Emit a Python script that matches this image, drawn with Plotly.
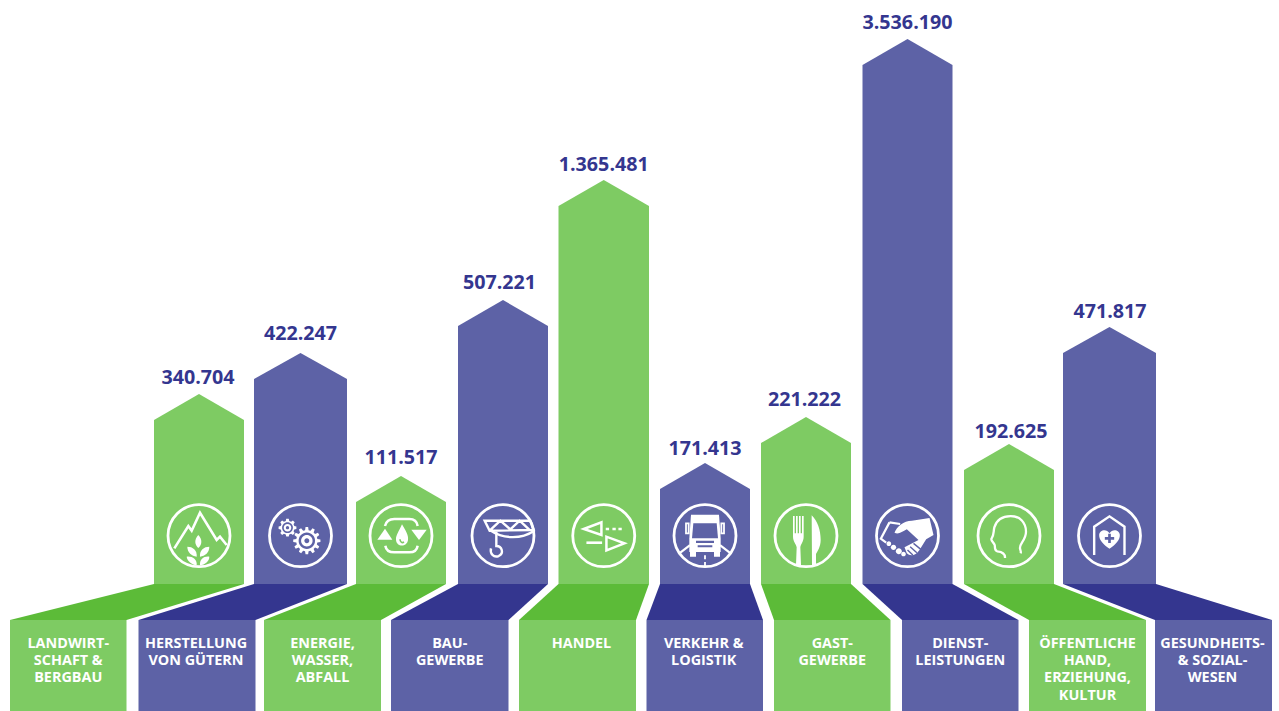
import math
import re
import plotly.graph_objects as go

# ---- data ----
categories = [
    "LANDWIRT-\nSCHAFT &\nBERGBAU", "HERSTELLUNG\nVON GÜTERN", "ENERGIE,\nWASSER,\nABFALL",
    "BAU-\nGEWERBE", "HANDEL", "VERKEHR &\nLOGISTIK", "GAST-\nGEWERBE",
    "DIENST-\nLEISTUNGEN", "ÖFFENTLICHE\nHAND,\nERZIEHUNG,\nKULTUR", "GESUNDHEITS-\n& SOZIAL-\nWESEN",
]
value_labels = ["340.704", "422.247", "111.517", "507.221", "1.365.481",
                "171.413", "221.222", "3.536.190", "192.625", "471.817"]
# heights of the arrows as drawn (the graphic does not scale linearly with the value)
drawn_heights = [190, 231, 108, 284, 404, 121, 167, 545, 140, 257]

# ---- layout geometry ----
W, H = 1279, 711
BASE_PX = 584
BAND_PX = 620
ROOF = 26
bar_left = [154, 254, 356, 458, 558.5, 660, 761, 862.5, 964, 1063]
bar_right = [244, 347, 446, 548, 649, 750, 851, 952.5, 1054, 1156]
box_left = [10, 138.5, 264, 391, 519, 646.5, 774, 902, 1029, 1155]
box_right = [126.5, 255.5, 381, 508.5, 636, 763, 890.5, 1018.5, 1146, 1272]
label_gap = [15, 18, 17, 16, 14, 13, 16, 15, 11, 14]
label_nudge = [-1, 0, 0, -3.5, 0, 0, -1.5, 0, 2, 0.5]
cat_nudge = [0, -1, 0, 0, 4, -1, 0, 0, 0, -1]
GREEN, DGREEN, PURPLE, DPURPLE = "#7ECB63", "#5CBB38", "#5D62A6", "#34368F"
FONT = "Open Sans"


def Y(px):
    return BASE_PX - px


fig = go.Figure()
for i, h in enumerate(drawn_heights):
    light = GREEN if i % 2 == 0 else PURPLE
    dark = DGREEN if i % 2 == 0 else DPURPLE
    l, r = bar_left[i], bar_right[i]
    bl, br = box_left[i], box_right[i]
    # arrow
    fig.add_trace(go.Scatter(
        x=[l, l, (l + r) / 2, r, r, l], y=[0, h - ROOF, h, h - ROOF, 0, 0],
        mode="lines", fill="toself", fillcolor=light, line=dict(width=0),
        hoverinfo="skip", showlegend=False))
    # connector
    fig.add_trace(go.Scatter(
        x=[l, r, br, bl, l], y=[0, 0, Y(BAND_PX), Y(BAND_PX), 0],
        mode="lines", fill="toself", fillcolor=dark, line=dict(width=0),
        hoverinfo="skip", showlegend=False))
    # base box
    fig.add_trace(go.Scatter(
        x=[bl, br, br, bl, bl], y=[Y(BAND_PX), Y(BAND_PX), Y(H), Y(H), Y(BAND_PX)],
        mode="lines", fill="toself", fillcolor=light, line=dict(width=0),
        hoverinfo="skip", showlegend=False))

# value labels
fig.add_trace(go.Scatter(
    x=[(a + b) / 2 + n for a, b, n in zip(bar_left, bar_right, label_nudge)],
    y=[h + g for h, g in zip(drawn_heights, label_gap)],
    text=value_labels, mode="text", textposition="middle center",
    textfont=dict(family=FONT, size=19.7, color=DPURPLE, weight=700),
    hoverinfo="skip", showlegend=False))

# category labels, one text point per line
lx, ly, lt = [], [], []
for i, cat in enumerate(categories):
    for j, line in enumerate(cat.split("\n")):
        lx.append((box_left[i] + box_right[i]) / 2 + cat_nudge[i])
        ly.append(Y(644 + j * 17.4))
        lt.append(line)
fig.add_trace(go.Scatter(
    x=lx, y=ly, text=lt, mode="text", textposition="middle center",
    textfont=dict(family=FONT, size=14.4, color="white", weight=700),
    hoverinfo="skip", showlegend=False))

# ---- pictograms (paths in 3x local units, centred on the icon origin) ----
shapes = []
ICON_Y = 535.7


def add_path(cx, origin, d, fill=None, stroke=None, w=2.0):
    ox, oy = origin
    out, is_x = [], True
    for tok in re.findall(r"[MLCQZ]|-?\d+\.?\d*", d):
        if tok.isalpha():
            out.append(tok)
            is_x = True
        else:
            v = float(tok)
            if is_x:
                out.append(f"{cx + (v - ox) / 3:.2f},")
            else:
                out.append(f"{Y(ICON_Y + (v - oy) / 3):.2f}")
            is_x = not is_x
    path = " ".join(out).replace(", ", ",")
    shapes.append(dict(type="path", xref="x", yref="y", path=path, layer="above",
                       fillcolor=fill or "rgba(0,0,0,0)",
                       line=dict(color=stroke or "rgba(0,0,0,0)", width=w if stroke else 0)))


def circ(x, y, r):
    k = 0.5523 * r
    return (f"M{x - r},{y} C{x - r},{y - k} {x - k},{y - r} {x},{y - r} "
            f"C{x + k},{y - r} {x + r},{y - k} {x + r},{y} "
            f"C{x + r},{y + k} {x + k},{y + r} {x},{y + r} "
            f"C{x - k},{y + r} {x - r},{y + k} {x - r},{y} Z")


def gear(x, y, ro, ri, n):
    pts = []
    for t in range(n):
        a = 2 * math.pi * t / n
        s = 2 * math.pi / n
        for da, rad in ((-0.32, ri), (-0.18, ro), (0.18, ro), (0.32, ri)):
            b = a + da * s
            pts.append((x + rad * math.cos(b), y + rad * math.sin(b)))
    return "M" + " L".join(f"{p:.1f},{q:.1f}" for p, q in pts) + " Z"


def centre(i):
    return (bar_left[i] + bar_right[i]) / 2


for i in range(10):
    add_path(centre(i), (0, 0), circ(0, 0, 93), stroke="white", w=2.8)

# 0 mountains and wheat
c, o = centre(0), (597, 137)
add_path(c, o, "M523,175 L565,108 L575,122 L600,68 L650,150 L660,140 L680,165", stroke="white", w=2.6)
add_path(c, o, "M595,135 C608,148 606,165 595,174 C584,165 582,148 595,135 Z", fill="white")
add_path(c, o, "M590,200 C575,198 562,188 562,170 C578,170 592,180 590,200 Z", fill="white")
add_path(c, o, "M600,200 C615,198 628,188 628,170 C612,170 598,180 600,200 Z", fill="white")
add_path(c, o, "M590,226 C575,224 562,214 560,200 C576,198 592,208 590,226 Z", fill="white")
add_path(c, o, "M600,226 C615,224 628,214 628,200 C612,198 598,208 600,226 Z", fill="white")

# 1 gears
c, o = centre(1), (899, 137)
for gx, gy, r, t in ((860, 113, 27, 8), (918, 152, 41, 12)):
    add_path(c, o, gear(gx, gy, r, r * 0.78, t), fill="white")
    add_path(c, o, circ(gx, gy, r * 0.60), fill=PURPLE)
    add_path(c, o, circ(gx, gy, r * 0.42), fill="white")
    add_path(c, o, circ(gx, gy, r * 0.18), fill=PURPLE)

# 2 water cycle
c, o = centre(2), (1200, 137)
add_path(c, o, "M1152,116 L1129,149 L1174,149 Z", fill="white")
add_path(c, o, "M1231,119 L1277,119 L1254,150 Z", fill="white")
add_path(c, o, "M1203,103 C1215,125 1223,135 1221,150 C1218,172 1187,172 1185,150 C1184,135 1194,125 1203,103 Z", fill="white")
add_path(c, o, "M1197,148 C1197,156 1203,160 1209,156", stroke=GREEN, w=1.6)
add_path(c, o, "M1152,108 C1155,95 1165,87 1180,87 L1225,87 C1240,87 1248,95 1250,108", stroke="white", w=2.5)
add_path(c, o, "M1153,167 C1155,180 1165,187 1180,187 L1225,187 C1240,187 1248,180 1250,167", stroke="white", w=2.5)

# 3 crane hook
c, o = centre(3), (218, 137)
add_path(c, o, "M163,92 L300,92 L310,120 L178,122 Z M178,122 L210,92 L240,118 L268,92 L300,122", stroke="white", w=2.4)
add_path(c, o, "M182,122 C215,145 270,150 312,122", stroke="white", w=2.4)
add_path(c, o, "M198,125 L198,168 C215,168 222,190 205,198 C190,203 178,192 182,175", stroke="white", w=2.4)

# 4 trade arrows
c, o = centre(4), (520, 137)
add_path(c, o, "M460,117 L513,97 L513,135 Z", stroke="white", w=2.5)
add_path(c, o, "M528,140 L528,181 L582,160 Z", stroke="white", w=2.5)
add_path(c, o, "M468,158 L515,158", stroke="white", w=2.6)
add_path(c, o, "M526,117 L536,117 M546,117 L556,117 M564,117 L574,117", stroke="white", w=2.6)

# 5 truck
c, o = centre(5), (825, 137)
add_path(c, o, "M783,74 L867,74 L872,145 L872,186 L778,186 L778,145 Z", fill="white")
add_path(c, o, "M790,100 L860,100 L864,145 L786,145 Z", fill=PURPLE)
add_path(c, o, "M798,152 L852,152 L852,159 L798,159 Z M803,166 L847,166 L847,172 L803,172 Z", fill=PURPLE)
add_path(c, o, "M780,186 L798,186 L798,200 L780,200 Z M852,186 L870,186 L870,200 L852,200 Z", fill="white")
add_path(c, o, "M768,100 L776,100 L776,130 L768,130 Z M874,100 L882,100 L882,130 L874,130 Z", stroke="white", w=1.8)
add_path(c, o, "M748,190 L780,165 M902,190 L870,165", stroke="white", w=2.2)
add_path(c, o, "M825,196 L825,208 M825,216 L825,230", stroke="white", w=1.8)

# 6 fork and knife
c, o = centre(6), (1128, 137)
add_path(c, o, "M1089,78 L1094,78 L1094,130 L1098,130 L1098,78 L1103,78 L1103,130 L1107,130 L1107,78 L1112,78 L1112,130 "
               "L1116,130 L1116,78 L1121,78 L1121,140 C1121,155 1112,162 1111,172 L1113,225 L1098,225 L1100,172 "
               "C1099,162 1089,155 1089,140 Z", fill="white")
add_path(c, o, "M1145,76 C1162,92 1172,120 1172,150 C1172,170 1162,185 1158,192 L1158,225 L1146,225 Z", fill="white")

# 7 handshake
c, o = centre(7), (172, 137)
add_path(c, o, "M133,128 C140,110 160,92 185,92 L238,84 L250,135 L228,148 L208,180 C197,197 180,200 170,190 "
               "L163,172 L205,150 L170,118 C155,125 145,135 133,128 Z", fill="white")
add_path(c, o, "M180,170 L200,188 M190,160 L212,178 M172,180 L188,195", stroke=PURPLE, w=1.4)
add_path(c, o, "M118,97 L92,146 L108,158 M118,97 L150,102", stroke="white", w=2.2)
for px, py, pr in ((116, 161, 7), (130, 172, 8), (146, 184, 9), (160, 192, 7)):
    add_path(c, o, circ(px, py, pr), fill="white")

# 8 head
c, o = centre(8), (477, 137)
add_path(c, o, "M465,204 C466,192 458,186 442,184 C432,182 436,172 434,165 C432,158 420,150 425,145 C432,135 430,125 433,112 "
               "C440,88 460,78 482,78 C510,78 528,98 528,125 C528,150 508,160 510,175 C511,182 514,185 512,190",
         stroke="white", w=2.3)

# 9 house with heart
c, o = centre(9), (787, 137)
add_path(c, o, "M741,195 L741,110 L787,79 L832,110 L832,195", stroke="white", w=2.4)
add_path(c, o, "M787,176 C770,165 755,150 756,135 C757,120 778,115 787,130 C796,115 817,120 818,135 C819,150 804,165 787,176 Z", fill="white")
add_path(c, o, "M783,131 L791,131 L791,141 L801,141 L801,149 L791,149 L791,159 L783,159 L783,149 L773,149 L773,141 L783,141 Z", fill=PURPLE)

fig.update_layout(
    width=W, height=H, margin=dict(l=0, r=0, t=0, b=0),
    paper_bgcolor="white", plot_bgcolor="white", showlegend=False, shapes=shapes,
    xaxis=dict(range=[0, W], visible=False, fixedrange=True),
    yaxis=dict(range=[Y(H), Y(0)], visible=False, fixedrange=True),
)
fig.write_html("out.html", config=dict(displayModeBar=False),
               post_script="document.body.style.margin='0';document.documentElement.style.overflow='hidden';")
